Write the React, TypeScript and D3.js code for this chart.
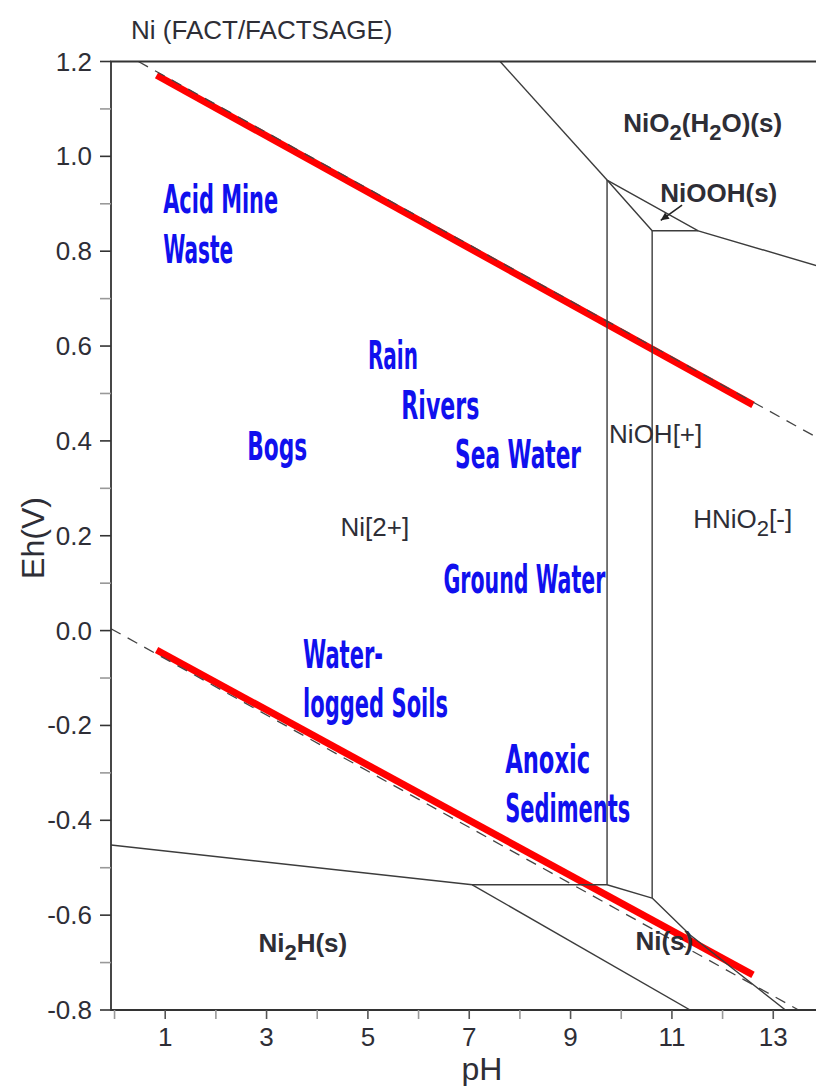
import * as d3 from 'd3'
import React from 'react'

// Eh-pH (Pourbaix) diagram for Ni, values as [pH, Eh]
const xTicks = [0, 1, 2, 3, 4, 5, 6, 7, 8, 9, 10, 11, 12, 13]
const xTickLabels = ['1', '3', '5', '7', '9', '11', '13']
const yTicks = d3.range(-8, 13).map(v => v / 10)
const yTickLabels = ['-0.8', '-0.6', '-0.4', '-0.2', '0.0', '0.2', '0.4', '0.6', '0.8', '1.0', '1.2']

// stability boundaries (solid)
const boundaries: [number, number][][] = [
  [[7.61, 1.2], [9.72, 0.95]],
  [[9.72, 0.95], [11.52, 0.843], [14.0, 0.765]],
  [[9.72, 0.95], [10.61, 0.843], [11.52, 0.843]],
  [[9.72, 0.95], [9.72, -0.536]],
  [[10.61, 0.843], [10.61, -0.564]],
  [[-0.07, -0.452], [7.06, -0.536], [9.72, -0.536], [10.61, -0.564]],
  [[7.06, -0.536], [11.36, -0.8]],
  [[10.61, -0.564], [11.36, -0.642], [13.24, -0.8]],
]

// water stability limits (dashed)
const waterUpper: [number, number][] = [[0.47, 1.2], [14.0, 0.399]]
const waterLower: [number, number][] = [[-0.07, 0.004], [13.5, -0.8]]

// red highlighted limits
const redUpper: [number, number][] = [[0.83, 1.171], [12.6, 0.476]]
const redLower: [number, number][] = [[0.83, -0.041], [12.6, -0.726]]

// natural environments (blue)
const envLabels = [
  { text: 'Acid Mine', ph: 0.96, eh: 0.881, w: 115 },
  { text: 'Waste', ph: 0.96, eh: 0.775, w: 70 },
  { text: 'Rain', ph: 5.0, eh: 0.552, w: 50 },
  { text: 'Rivers', ph: 5.66, eh: 0.446, w: 78 },
  { text: 'Bogs', ph: 2.62, eh: 0.36, w: 60 },
  { text: 'Sea Water', ph: 6.72, eh: 0.342, w: 126 },
  { text: 'Ground Water', ph: 6.49, eh: 0.079, w: 162 },
  { text: 'Water-', ph: 3.72, eh: -0.079, w: 80 },
  { text: 'logged Soils', ph: 3.72, eh: -0.182, w: 145 },
  { text: 'Anoxic', ph: 7.71, eh: -0.3, w: 85 },
  { text: 'Sediments', ph: 7.71, eh: -0.404, w: 125 },
]

// species fields (black), _2 marks a subscript
const speciesLabels = [
  { text: 'NiO_2(H_2O)(s)', ph: 10.04, eh: 1.051, bold: true },
  { text: 'NiOOH(s)', ph: 10.77, eh: 0.904, bold: true },
  { text: 'NiOH[+]', ph: 9.76, eh: 0.396, bold: false },
  { text: 'HNiO_2[-]', ph: 11.42, eh: 0.216, bold: false },
  { text: 'Ni[2+]', ph: 4.46, eh: 0.199, bold: false },
  { text: 'Ni_2H(s)', ph: 2.84, eh: -0.678, bold: true },
  { text: 'Ni(s)', ph: 10.28, eh: -0.673, bold: true },
]

const arrow: [number, number][] = [[11.2, 0.897], [10.78, 0.865]]

const W = 816
const H = 1086
const left = 111
const top = 61.5
const bottom = 1010
const font = "'Liberation Sans', Arial, sans-serif"
const ink = '#2e2e36'

const x = d3.scaleLinear().domain([-0.07, 14]).range([left, left + 14.07 * 50.67])
const y = d3.scaleLinear().domain([-0.8, 1.2]).range([bottom, top])
const line = d3
  .line<[number, number]>()
  .x(d => x(d[0]))
  .y(d => y(d[1]))

const Species = ({ text, px, py, bold }: { text: string; px: number; py: number; bold: boolean }) => {
  const parts = text.split(/(_\d)/).filter(s => s.length)
  return (
    <text x={px} y={py} fontFamily={font} fontSize={26} fontWeight={bold ? 'bold' : 'normal'} fill={ink}>
      {parts.map((p, i) =>
        p.startsWith('_') ? (
          <tspan key={i} fontSize={22} dy={8}>
            {p.slice(1)}
          </tspan>
        ) : (
          <tspan key={i} dy={i > 0 && parts[i - 1].startsWith('_') ? -8 : 0}>
            {p}
          </tspan>
        ),
      )}
    </text>
  )
}

export default function App() {
  const right = x(14)
  const head = arrow[1]
  const tail = arrow[0]
  const ang = Math.atan2(y(head[1]) - y(tail[1]), x(head[0]) - x(tail[0]))
  const ah = 9
  const arrowHead = [
    [x(head[0]), y(head[1])],
    [x(head[0]) - ah * Math.cos(ang - 0.45), y(head[1]) - ah * Math.sin(ang - 0.45)],
    [x(head[0]) - ah * Math.cos(ang + 0.45), y(head[1]) - ah * Math.sin(ang + 0.45)],
  ]

  return (
    <svg width={W} height={H} style={{ position: 'absolute', left: 0, top: 0, background: '#fff' }}>
      <defs>
        <clipPath id="plot">
          <rect x={left} y={top} width={right - left} height={bottom - top} />
        </clipPath>
      </defs>

      {/* title */}
      <text x={131} y={39} fontFamily={font} fontSize={26} fill={ink}>
        Ni (FACT/FACTSAGE)
      </text>

      <g clipPath="url(#plot)">
        {/* red highlighted water limits */}
        {[redUpper, redLower].map((d, i) => (
          <path key={i} d={line(d) ?? ''} stroke="#ff0000" strokeWidth={7} fill="none" />
        ))}
        {/* dashed water limits */}
        {[waterUpper, waterLower].map((d, i) => (
          <path key={i} d={line(d) ?? ''} stroke="#444" strokeWidth={1.3} strokeDasharray="11,8" fill="none" />
        ))}
        {/* boundaries */}
        {boundaries.map((d, i) => (
          <path key={i} d={line(d) ?? ''} stroke="#3c3c3c" strokeWidth={1.4} fill="none" />
        ))}
      </g>

      {/* arrow to NiOOH field */}
      <line x1={x(tail[0])} y1={y(tail[1])} x2={x(head[0])} y2={y(head[1])} stroke="#222" strokeWidth={1.6} />
      <polygon points={arrowHead.map(p => p.join(',')).join(' ')} fill="#222" />

      {/* frame */}
      <path
        d={`M${right},${top}H${left}V${bottom}H${right}`}
        stroke="#333"
        strokeWidth={1.8}
        fill="none"
      />

      {/* y ticks */}
      {yTicks.map((t, i) => (
        <line
          key={i}
          x1={left - 11}
          x2={left}
          y1={y(t)}
          y2={y(t)}
          stroke={i % 2 === 0 ? '#333' : '#999'}
          strokeWidth={1.6}
        />
      ))}
      {yTickLabels.map(t => (
        <text key={t} x={92} y={y(+t) + 9} textAnchor="end" fontFamily={font} fontSize={26} fill={ink}>
          {t}
        </text>
      ))}

      {/* x ticks */}
      {xTicks.map(t => (
        <line
          key={t}
          x1={x(t)}
          x2={x(t)}
          y1={bottom}
          y2={bottom + 9}
          stroke={t % 2 === 1 ? '#555' : '#999'}
          strokeWidth={1.6}
        />
      ))}
      {xTickLabels.map(t => (
        <text key={t} x={x(+t)} y={1046} textAnchor="middle" fontFamily={font} fontSize={26} fill={ink}>
          {t}
        </text>
      ))}

      {/* axis titles */}
      <text x={482} y={1080} textAnchor="middle" fontFamily={font} fontSize={32} fill={ink}>
        pH
      </text>
      <text
        transform="translate(44,538) rotate(-90)"
        textAnchor="middle"
        fontFamily={font}
        fontSize={32}
        fill={ink}
      >
        Eh(V)
      </text>

      {/* environment labels */}
      {envLabels.map(l => (
        <text
          key={l.text}
          x={x(l.ph)}
          y={y(l.eh)}
          textLength={l.w}
          lengthAdjust="spacingAndGlyphs"
          fontFamily="'Liberation Sans Narrow', 'DejaVu Sans Condensed', 'Roboto', sans-serif"
          fontWeight="bold"
          fontSize={39}
          fill="#1010ee"
        >
          {l.text}
        </text>
      ))}

      {/* species labels */}
      {speciesLabels.map(l => (
        <Species key={l.text} text={l.text} px={x(l.ph)} py={y(l.eh)} bold={l.bold} />
      ))}
    </svg>
  )
}
